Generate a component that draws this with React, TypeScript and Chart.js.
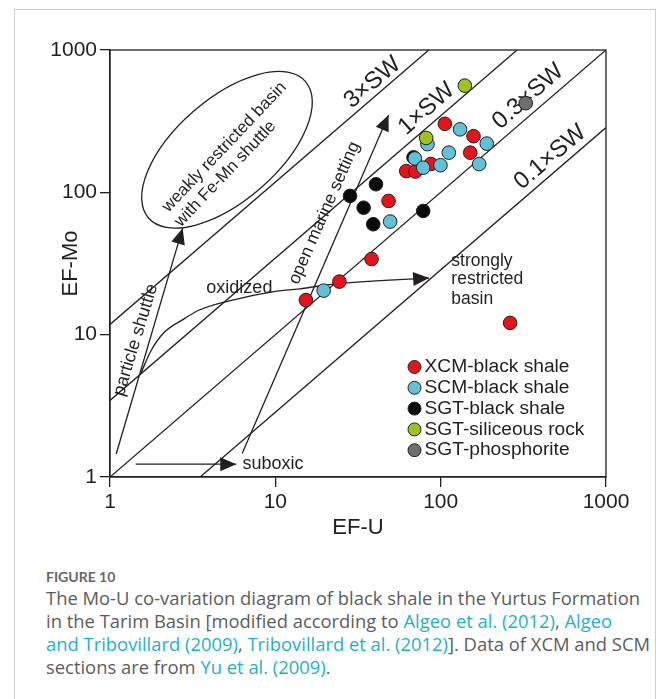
import React, { useEffect, useRef } from 'react';
import { Chart, registerables } from 'chart.js';

Chart.register(...registerables);

// ---------- data ----------
const tickValues = [1, 10, 100, 1000];

const xcmU = [106, 158, 151, 87.3, 61.9, 70.4, 48.4, 38.2, 24.4, 15.3, 263];
const xcmMo = [303, 248, 190, 158, 141, 140, 87, 34, 23.6, 17.5, 12.1];

const scmU = [131, 190, 83.2, 112, 171, 69.8, 99.7, 78.4, 49.5, 19.6];
const scmMo = [277, 220, 218, 190, 158, 173, 155, 149, 62.3, 20.4];

const sgtShaleU = [68.5, 40.6, 28.3, 34.2, 39.1, 78.4];
const sgtShaleMo = [176, 114, 94.4, 78, 59.7, 74];

const sgtSiliceousU = [140, 81.7];
const sgtSiliceousMo = [562, 241];

const sgtPhosU = [327];
const sgtPhosMo = [423];

const swLabels = ['3×SW', '1×SW', '0.3×SW', '0.1×SW'];
const swRatios = [11.8, 3.45, 1.0, 0.285];

const particleU = [1.09, 2.75];
const particleMo = [1.45, 56];
const openMarineU = [6.3, 48.4];
const openMarineMo = [1.46, 350];
const suboxicU = [1.43, 5.8];
const suboxicMo = [1.23, 1.23];
const oxidizedU = [1.53, 1.78, 2.13, 2.74, 3.47, 5.27, 9.6, 14.0, 24.4, 85.2];
const oxidizedMo = [5.3, 7.8, 10.4, 12.7, 14.9, 17.3, 20.0, 21.0, 22.9, 25.0];

const seriesLabels = [
  'XCM-black shale',
  'SCM-black shale',
  'SGT-black shale',
  'SGT-siliceous rock',
  'SGT-phosphorite',
];
const seriesColors = ['#e5141c', '#62c1d8', '#0a0a0a', '#9fc31e', '#6f6f6f'];

// ---------- styling ----------
const INK = '#231f20';
const FONT = "'Liberation Sans', Arial, sans-serif";

const zip = (xs: number[], ys: number[]) => xs.map((x, i) => ({ x, y: ys[i] }));

function drawText(
  ctx: CanvasRenderingContext2D,
  text: string,
  x: number,
  y: number,
  angle: number,
  size: number,
  align: CanvasTextAlign = 'center'
) {
  ctx.save();
  ctx.translate(x, y);
  ctx.rotate((angle * Math.PI) / 180);
  ctx.font = `${size}px ${FONT}`;
  ctx.textAlign = align;
  ctx.textBaseline = 'middle';
  ctx.fillStyle = INK;
  ctx.fillText(text, 0, 0);
  ctx.restore();
}

// text annotations anchored in data coordinates
const notes: { t: string; u: number; mo: number; a: number; s: number; al?: CanvasTextAlign }[] = [
  { t: swLabels[0], u: 38.7, mo: 590, a: -40.5, s: 24 },
  { t: swLabels[1], u: 82.3, mo: 385, a: -41.5, s: 24 },
  { t: swLabels[2], u: 338, mo: 471, a: -41.5, s: 24 },
  { t: swLabels[3], u: 459, mo: 176, a: -40.5, s: 24 },
  { t: 'weakly restricted basin', u: 4.92, mo: 208, a: -46.5, s: 17 },
  { t: 'with Fe-Mn shuttle', u: 4.99, mo: 135, a: -46.5, s: 17 },
  { t: 'particle shuttle', u: 1.43, mo: 9.18, a: -73, s: 18 },
  { t: 'open marine setting', u: 19.8, mo: 71.6, a: -66.3, s: 17.5 },
  { t: 'oxidized', u: 6.06, mo: 21.2, a: 0, s: 18 },
  { t: 'strongly', u: 116, mo: 32.6, a: 0, s: 17.5, al: 'left' },
  { t: 'restricted', u: 116, mo: 24.5, a: 0, s: 17.5, al: 'left' },
  { t: 'basin', u: 116, mo: 17.8, a: 0, s: 17.5, al: 'left' },
  { t: 'suboxic', u: 6.32, mo: 1.23, a: 0, s: 18, al: 'left' },
];

const annotationPlugin = {
  id: 'annotations',
  beforeDatasetsDraw(chart: any) {
    const { ctx, chartArea, scales } = chart;
    const xs = scales.x;
    const ys = scales.y;
    ctx.save();
    ctx.strokeStyle = INK;
    ctx.lineWidth = 1.3;
    ctx.strokeRect(chartArea.left, chartArea.top, chartArea.right - chartArea.left, chartArea.bottom - chartArea.top);
    ctx.beginPath();
    ctx.ellipse(xs.getPixelForValue(5.1), ys.getPixelForValue(199), 104, 51, (-41 * Math.PI) / 180, 0, Math.PI * 2);
    ctx.lineWidth = 1.3;
    ctx.stroke();
    ctx.restore();
    for (const n of notes) {
      drawText(ctx, n.t, xs.getPixelForValue(n.u), ys.getPixelForValue(n.mo), n.a, n.s, n.al || 'center');
    }
  },
  afterDatasetsDraw(chart: any) {
    const { ctx } = chart;
    chart.data.datasets.forEach((ds: any, i: number) => {
      if (!ds.arrow) return;
      const pts = chart.getDatasetMeta(i).data;
      const p1 = pts[pts.length - 1];
      const p0 = pts[pts.length - 2];
      const ang = Math.atan2(p1.y - p0.y, p1.x - p0.x);
      const L = 16;
      const W = 7;
      ctx.save();
      ctx.translate(p1.x, p1.y);
      ctx.rotate(ang);
      ctx.beginPath();
      ctx.moveTo(0, 0);
      ctx.lineTo(-L, -W);
      ctx.lineTo(-L, W);
      ctx.closePath();
      ctx.fillStyle = INK;
      ctx.fill();
      ctx.restore();
    });
  },
  afterDraw(chart: any) {
    const { ctx, chartArea } = chart;
    const x0 = chartArea.right - 191.5;
    const y0 = chartArea.bottom - 110;
    seriesLabels.forEach((lab, i) => {
      const y = y0 + i * 20.8;
      ctx.save();
      ctx.beginPath();
      ctx.arc(x0, y, 6.5, 0, Math.PI * 2);
      ctx.fillStyle = seriesColors[i];
      ctx.fill();
      ctx.lineWidth = 1;
      ctx.strokeStyle = '#222';
      ctx.stroke();
      ctx.restore();
      drawText(ctx, lab, x0 + 10, y, 0, 19.2, 'left');
    });
  },
};

function App() {
  const ref = useRef<HTMLCanvasElement | null>(null);

  useEffect(() => {
    if (!ref.current) return;
    Chart.defaults.font.family = FONT;

    const pointStyle = (color: string, order: number) => ({
      type: 'scatter' as const,
      backgroundColor: color,
      borderColor: '#1e1e1e',
      borderWidth: 1,
      pointRadius: 6.8,
      pointHoverRadius: 6.8,
      order,
    });

    const lineStyle = {
      type: 'line' as const,
      borderColor: INK,
      borderWidth: 1.3,
      pointRadius: 0,
      pointHoverRadius: 0,
      fill: false,
      order: 20,
    };

    const swDatasets = swRatios.map((r, i) => ({
      ...lineStyle,
      label: swLabels[i],
      data: [
        { x: Math.max(1, 1 / r), y: Math.max(1, 1 / r) * r },
        { x: Math.min(1000, 1000 / r), y: Math.min(1000, 1000 / r) * r },
      ],
    }));

    const chart = new Chart(ref.current, {
      type: 'scatter',
      data: {
        datasets: [
          { ...pointStyle(seriesColors[3], 1), label: seriesLabels[3], data: zip(sgtSiliceousU, sgtSiliceousMo) },
          { ...pointStyle(seriesColors[4], 2), label: seriesLabels[4], data: zip(sgtPhosU, sgtPhosMo) },
          { ...pointStyle(seriesColors[1], 3), label: seriesLabels[1], data: zip(scmU, scmMo) },
          { ...pointStyle(seriesColors[0], 4), label: seriesLabels[0], data: zip(xcmU, xcmMo) },
          { ...pointStyle(seriesColors[2], 5), label: seriesLabels[2], data: zip(sgtShaleU, sgtShaleMo) },
          ...swDatasets,
          { ...lineStyle, label: 'particle shuttle', arrow: true, data: zip(particleU, particleMo) },
          { ...lineStyle, label: 'open marine setting', arrow: true, data: zip(openMarineU, openMarineMo) },
          { ...lineStyle, label: 'suboxic', arrow: true, data: zip(suboxicU, suboxicMo) },
          {
            ...lineStyle,
            label: 'oxidized',
            arrow: true,
            cubicInterpolationMode: 'monotone',
            data: zip(oxidizedU, oxidizedMo),
          },
        ] as any,
      },
      options: {
        animation: false,
        responsive: false,
        events: [],
        layout: { padding: { left: 0, right: 50, top: 50, bottom: 0 } },
        plugins: { legend: { display: false }, tooltip: { enabled: false } },
        scales: {
          x: {
            type: 'logarithmic',
            position: 'bottom',
            min: 1,
            max: 1000,
            afterBuildTicks: (s: any) => {
              s.ticks = tickValues.map((v) => ({ value: v }));
            },
            afterFit: (s: any) => {
              s.height = 83;
            },
            ticks: {
              callback: (v: any) => String(v),
              font: { size: 21 },
              color: INK,
              padding: 3,
              autoSkip: false,
              maxRotation: 0,
            },
            grid: { drawOnChartArea: false, drawTicks: true, tickLength: 10, color: INK, lineWidth: 1.3 },
            border: { display: true, color: INK, width: 1.3 },
            title: { display: true, text: 'EF-U', font: { size: 22 }, color: INK, padding: { top: 0, bottom: 19 } },
          },
          y: {
            type: 'logarithmic',
            position: 'left',
            min: 1,
            max: 1000,
            afterBuildTicks: (s: any) => {
              s.ticks = tickValues.map((v) => ({ value: v }));
            },
            afterFit: (s: any) => {
              s.width = 110;
            },
            ticks: {
              callback: (v: any) => String(v),
              font: { size: 21 },
              color: INK,
              padding: 3,
              autoSkip: false,
            },
            grid: { drawOnChartArea: false, drawTicks: true, tickLength: 10, color: INK, lineWidth: 1.3 },
            border: { display: true, color: INK, width: 1.3 },
            title: { display: true, text: 'EF-Mo', font: { size: 22 }, color: INK, padding: { top: 58, bottom: 0 } },
          },
        },
      } as any,
      plugins: [annotationPlugin],
    });
    return () => chart.destroy();
  }, []);

  const link = { color: '#1fb0c9' };
  const lineStyle: React.CSSProperties = { whiteSpace: 'nowrap', height: 23, lineHeight: '23px' };

  return (
    <div style={{ position: 'absolute', left: 0, top: 0, width: 656, height: 699, overflow: 'hidden', background: '#fff' }}>
      <div
        style={{
          position: 'absolute',
          left: 14,
          top: 9,
          width: 640,
          height: 720,
          border: '1px solid #cfcfcf',
        }}
      />
      <canvas ref={ref} width={656} height={560} style={{ position: 'absolute', left: 0, top: 0, width: 656, height: 560 }} />
      <div
        style={{
          position: 'absolute',
          left: 46,
          top: 567,
          fontFamily: '"Open Sans", Lato, sans-serif',
          color: '#5c5c5c',
          fontSize: 18.4,
        }}
      >
        <div style={{ fontSize: 14, fontWeight: 700, color: '#666', height: 19, lineHeight: '19px', fontFamily: 'Lato, sans-serif' }}>
          FIGURE 10
        </div>
        <div style={lineStyle}>The Mo-U co-variation diagram of black shale in the Yurtus Formation</div>
        <div style={lineStyle}>
          in the Tarim Basin [modified according to <span style={link}>Algeo et al. (2012)</span>,{' '}
          <span style={link}>Algeo</span>
        </div>
        <div style={lineStyle}>
          <span style={link}>and Tribovillard (2009)</span>, <span style={link}>Tribovillard et al. (2012)</span>]. Data
          of XCM and SCM
        </div>
        <div style={lineStyle}>
          sections are from <span style={link}>Yu et al. (2009)</span>.
        </div>
      </div>
    </div>
  );
}

export default App;
